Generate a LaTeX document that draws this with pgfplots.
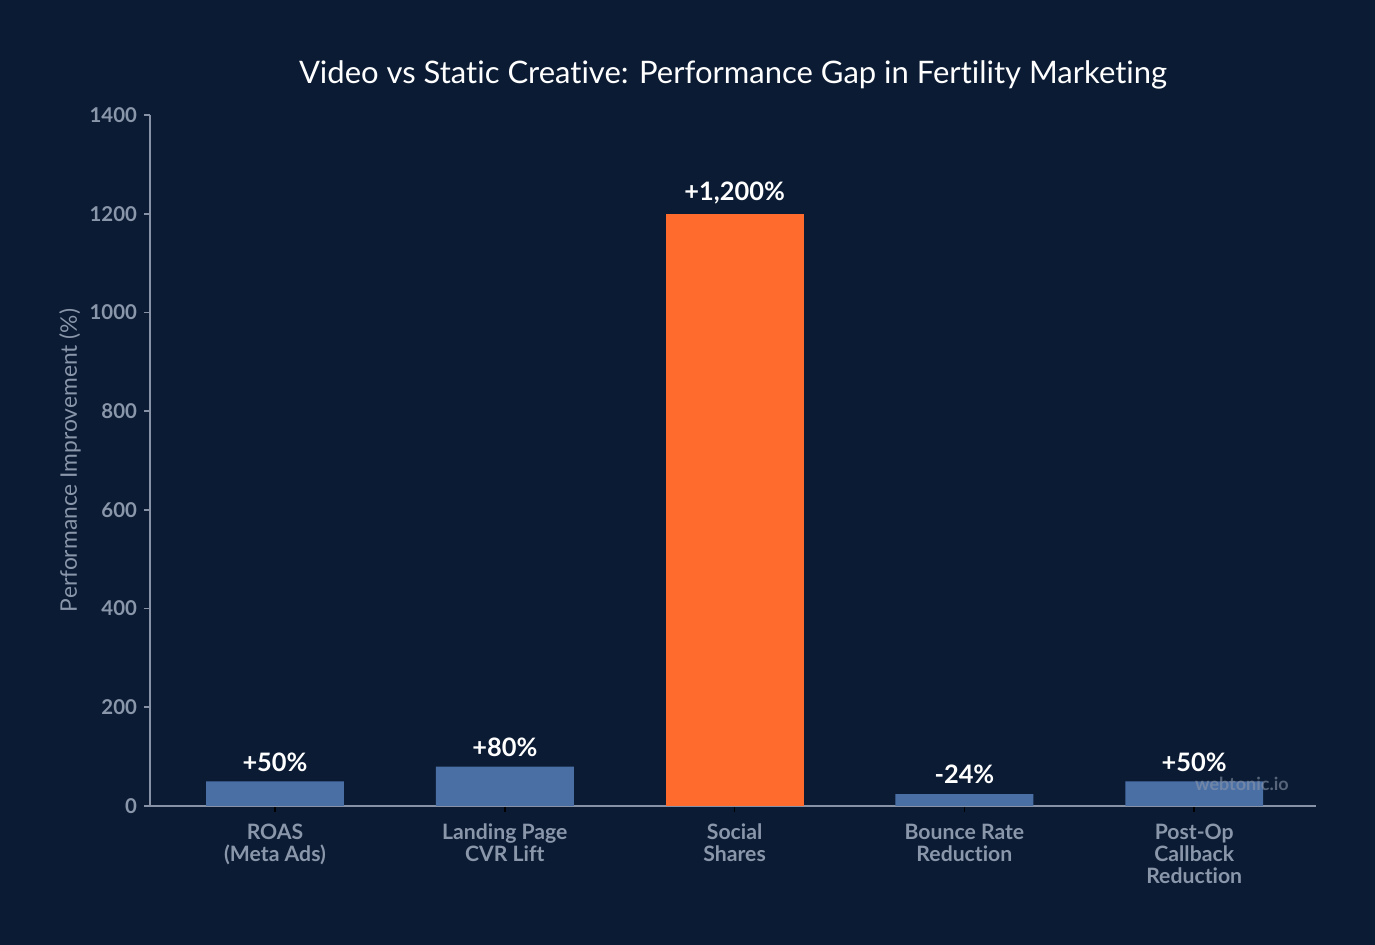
\documentclass[border=0pt]{standalone}
\usepackage{pgfplots}
\pgfplotsset{compat=1.18}
\usepackage{fontspec}
\setmainfont{Lato}[Ligatures={NoCommon}]
\definecolor{bgcol}{HTML}{0B1B33}
\definecolor{barblue}{HTML}{4A6FA5}
\definecolor{barorange}{HTML}{FF6B2C}
\definecolor{ticktext}{HTML}{8A96AA}
\definecolor{axline}{HTML}{8892A6}
\begin{document}
\begin{tikzpicture}
\useasboundingbox (0,0) rectangle (687.5pt,472.5pt);
\fill[bgcol] (0,0) rectangle (687.5pt,472.5pt);
\begin{axis}[
  at={(75pt,69.5pt)}, anchor=south west,
  scale only axis, width=583pt, height=345.5pt,
  xmin=-0.544, xmax=4.53, ymin=0, ymax=1400,
  axis x line*=bottom, axis y line*=left,
  axis line style={draw=axline, line width=0.9pt},
  ybar, bar width=0.6,
  xtick={0,1,2,3,4},
  xticklabels={ROAS\\(Meta Ads), Landing Page\\CVR Lift, Social\\Shares, Bounce Rate\\Reduction, Post-Op\\Callback\\Reduction},
  xticklabel style={align=center, font=\fontsize{10.6}{11}\selectfont\bfseries, text=ticktext, yshift=-2.5pt},
  ytick={0,200,400,600,800,1000,1200,1400},
  yticklabel style={font=\fontsize{10.2}{12}\selectfont\bfseries, text=ticktext},
  /pgf/number format/assume math mode=true,
  /pgf/number format/1000 sep={},
  tick align=outside, major tick length=3pt,
  xtick style={draw=black, line width=0.8pt},
  ytick style={draw=axline, line width=0.8pt},
  title={Video vs Static Creative: Performance Gap in Fertility Marketing},
  title style={font=\fontsize{15.5}{17}\selectfont, text=white, at={(axis description cs:0.5,1)}, anchor=center, yshift=14pt},
  ylabel={Performance Improvement (\%)},
  every axis y label/.style={at={(axis description cs:-0.0686,0.5)}, rotate=90, anchor=center, font=\fontsize{11.4}{13}\selectfont, text=ticktext},
  point meta=explicit symbolic,
  nodes near coords,
  nodes near coords style={font=\fontsize{12.7}{14}\selectfont\bfseries, text=white, yshift=1.5pt},
  clip=false,
]
\addplot[fill=barblue, draw=none, bar shift=0pt] coordinates {
  (0,50) [+50\%]
  (1,80) [+80\%]
  (3,24) [-24\%]
  (4,50) [+50\%]
};
\addplot[fill=barorange, draw=none, bar shift=0pt] coordinates {
  (2,1200) [+1,200\%]
};
\node[font=\fontsize{9}{11}\selectfont\bfseries, text=ticktext, opacity=0.6] at (axis description cs:0.9365,0.032) {webtonic.io};
\end{axis}
\end{tikzpicture}
\end{document}
